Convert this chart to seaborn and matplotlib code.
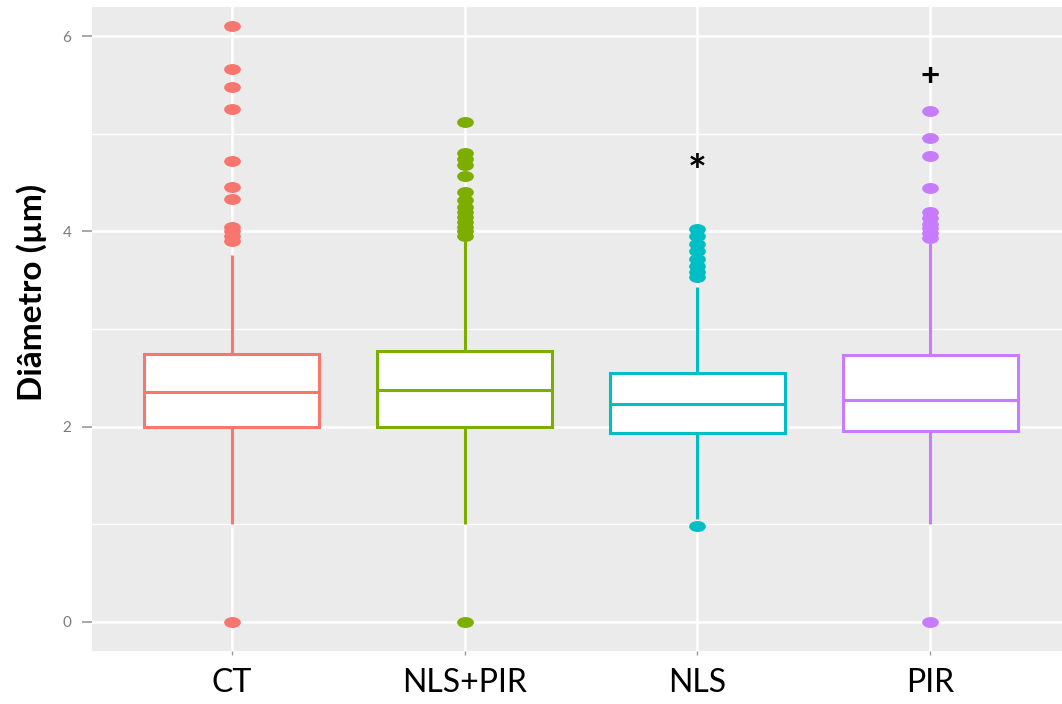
import numpy as np
import pandas as pd
import matplotlib
matplotlib.use("Agg")
import matplotlib.pyplot as plt
from matplotlib.path import Path
from matplotlib.transforms import Affine2D
from matplotlib.ticker import MultipleLocator
import seaborn as sns

# ---- data ----
categories = ["CT", "NLS+PIR", "NLS", "PIR"]
colors = ["#F8766D", "#7CAE00", "#00BFC4", "#C77CFF"]
q1 = [2.00, 2.00, 1.93, 1.95]
median = [2.35, 2.37, 2.23, 2.27]
q3 = [2.74, 2.77, 2.55, 2.73]
whisker_low = [1.00, 1.00, 1.05, 1.00]
whisker_high = [3.76, 3.90, 3.43, 3.88]
out_ct = [0.0, 3.90, 3.95, 4.00, 4.05, 4.33, 4.46, 4.72, 5.25, 5.48, 5.66, 6.11]
out_nlspir = [0.0, 3.95, 4.00, 4.05, 4.10, 4.15, 4.20, 4.25, 4.32, 4.40,
              4.57, 4.68, 4.74, 4.80, 5.12]
out_nls = [0.98, 3.53, 3.58, 3.65, 3.72, 3.80, 3.87, 3.95, 4.02]
out_pir = [0.0, 3.93, 3.98, 4.03, 4.08, 4.14, 4.20, 4.45, 4.77, 4.96, 5.23]
outliers = [out_ct, out_nlspir, out_nls, out_pir]
annot_cats = ["NLS", "PIR"]
annot_text = ["*", "+"]
annot_y = [4.60, 5.59]
annot_size = [32, 24]

# Observations encoding the box statistics (each quartile level repeated so
# the library's quartile computation lands on the read values)
K = 40
rows = []
for i, c in enumerate(categories):
    vals = ([whisker_low[i]] + [q1[i]] * K + [median[i]] * K + [q3[i]] * K
            + [whisker_high[i]] + outliers[i])
    rows += [(c, v) for v in vals]
df = pd.DataFrame(rows, columns=["grupo", "diametro"])

sns.set_style("darkgrid")
plt.rcParams["font.family"] = ["Lato", "DejaVu Sans"]

fig = plt.figure(figsize=(10.62, 7.04), dpi=100)
ax = fig.add_axes([92 / 1062, 1 - 651 / 704, 978 / 1062, 644 / 704])
ax.set_facecolor("#EBEBEB")

ellipse = Path.unit_circle().transformed(Affine2D().scale(1.0, 0.62))

for i, c in enumerate(categories):
    sub = df[df["grupo"] == c]
    sns.boxplot(data=sub, x="grupo", y="diametro", order=categories,
                color="white", linecolor=colors[i], linewidth=2.2,
                width=0.75, showcaps=False, saturation=1,
                flierprops=dict(marker=ellipse, markersize=11,
                                markerfacecolor=colors[i],
                                markeredgecolor=colors[i]),
                ax=ax, zorder=3)

for t, c, yv, fs in zip(annot_text, annot_cats, annot_y, annot_size):
    ax.text(categories.index(c), yv, t, ha="center", va="center",
            fontsize=fs, fontweight="bold", color="black", zorder=5)

ax.set_xlim(-0.6, 3.6)
ax.set_ylim(-0.3, 6.3)
ax.set_yticks([0, 2, 4, 6])
ax.yaxis.set_minor_locator(MultipleLocator(1))
ax.grid(which="major", color="white", linewidth=1.8, zorder=0)
ax.grid(which="minor", axis="y", color="white", linewidth=0.9, zorder=0)
ax.set_axisbelow(True)
for s in ax.spines.values():
    s.set_visible(False)

ax.tick_params(axis="y", which="major", length=7, width=1.2, color="#9A9A9A",
               labelsize=11, labelcolor="#7A7A7A", pad=8, left=True)
ax.tick_params(axis="y", which="minor", length=0)
ax.tick_params(axis="x", length=3, width=1.0, color="#9A9A9A",
               labelsize=23, labelcolor="black", pad=9, bottom=True)
ax.set_xlabel("")
ax.set_ylabel("Diâmetro (µm)", fontsize=24, fontweight="bold",
              color="black")
ax.yaxis.set_label_coords(-0.046, 0.557)

fig.savefig("out.png", dpi=100)
